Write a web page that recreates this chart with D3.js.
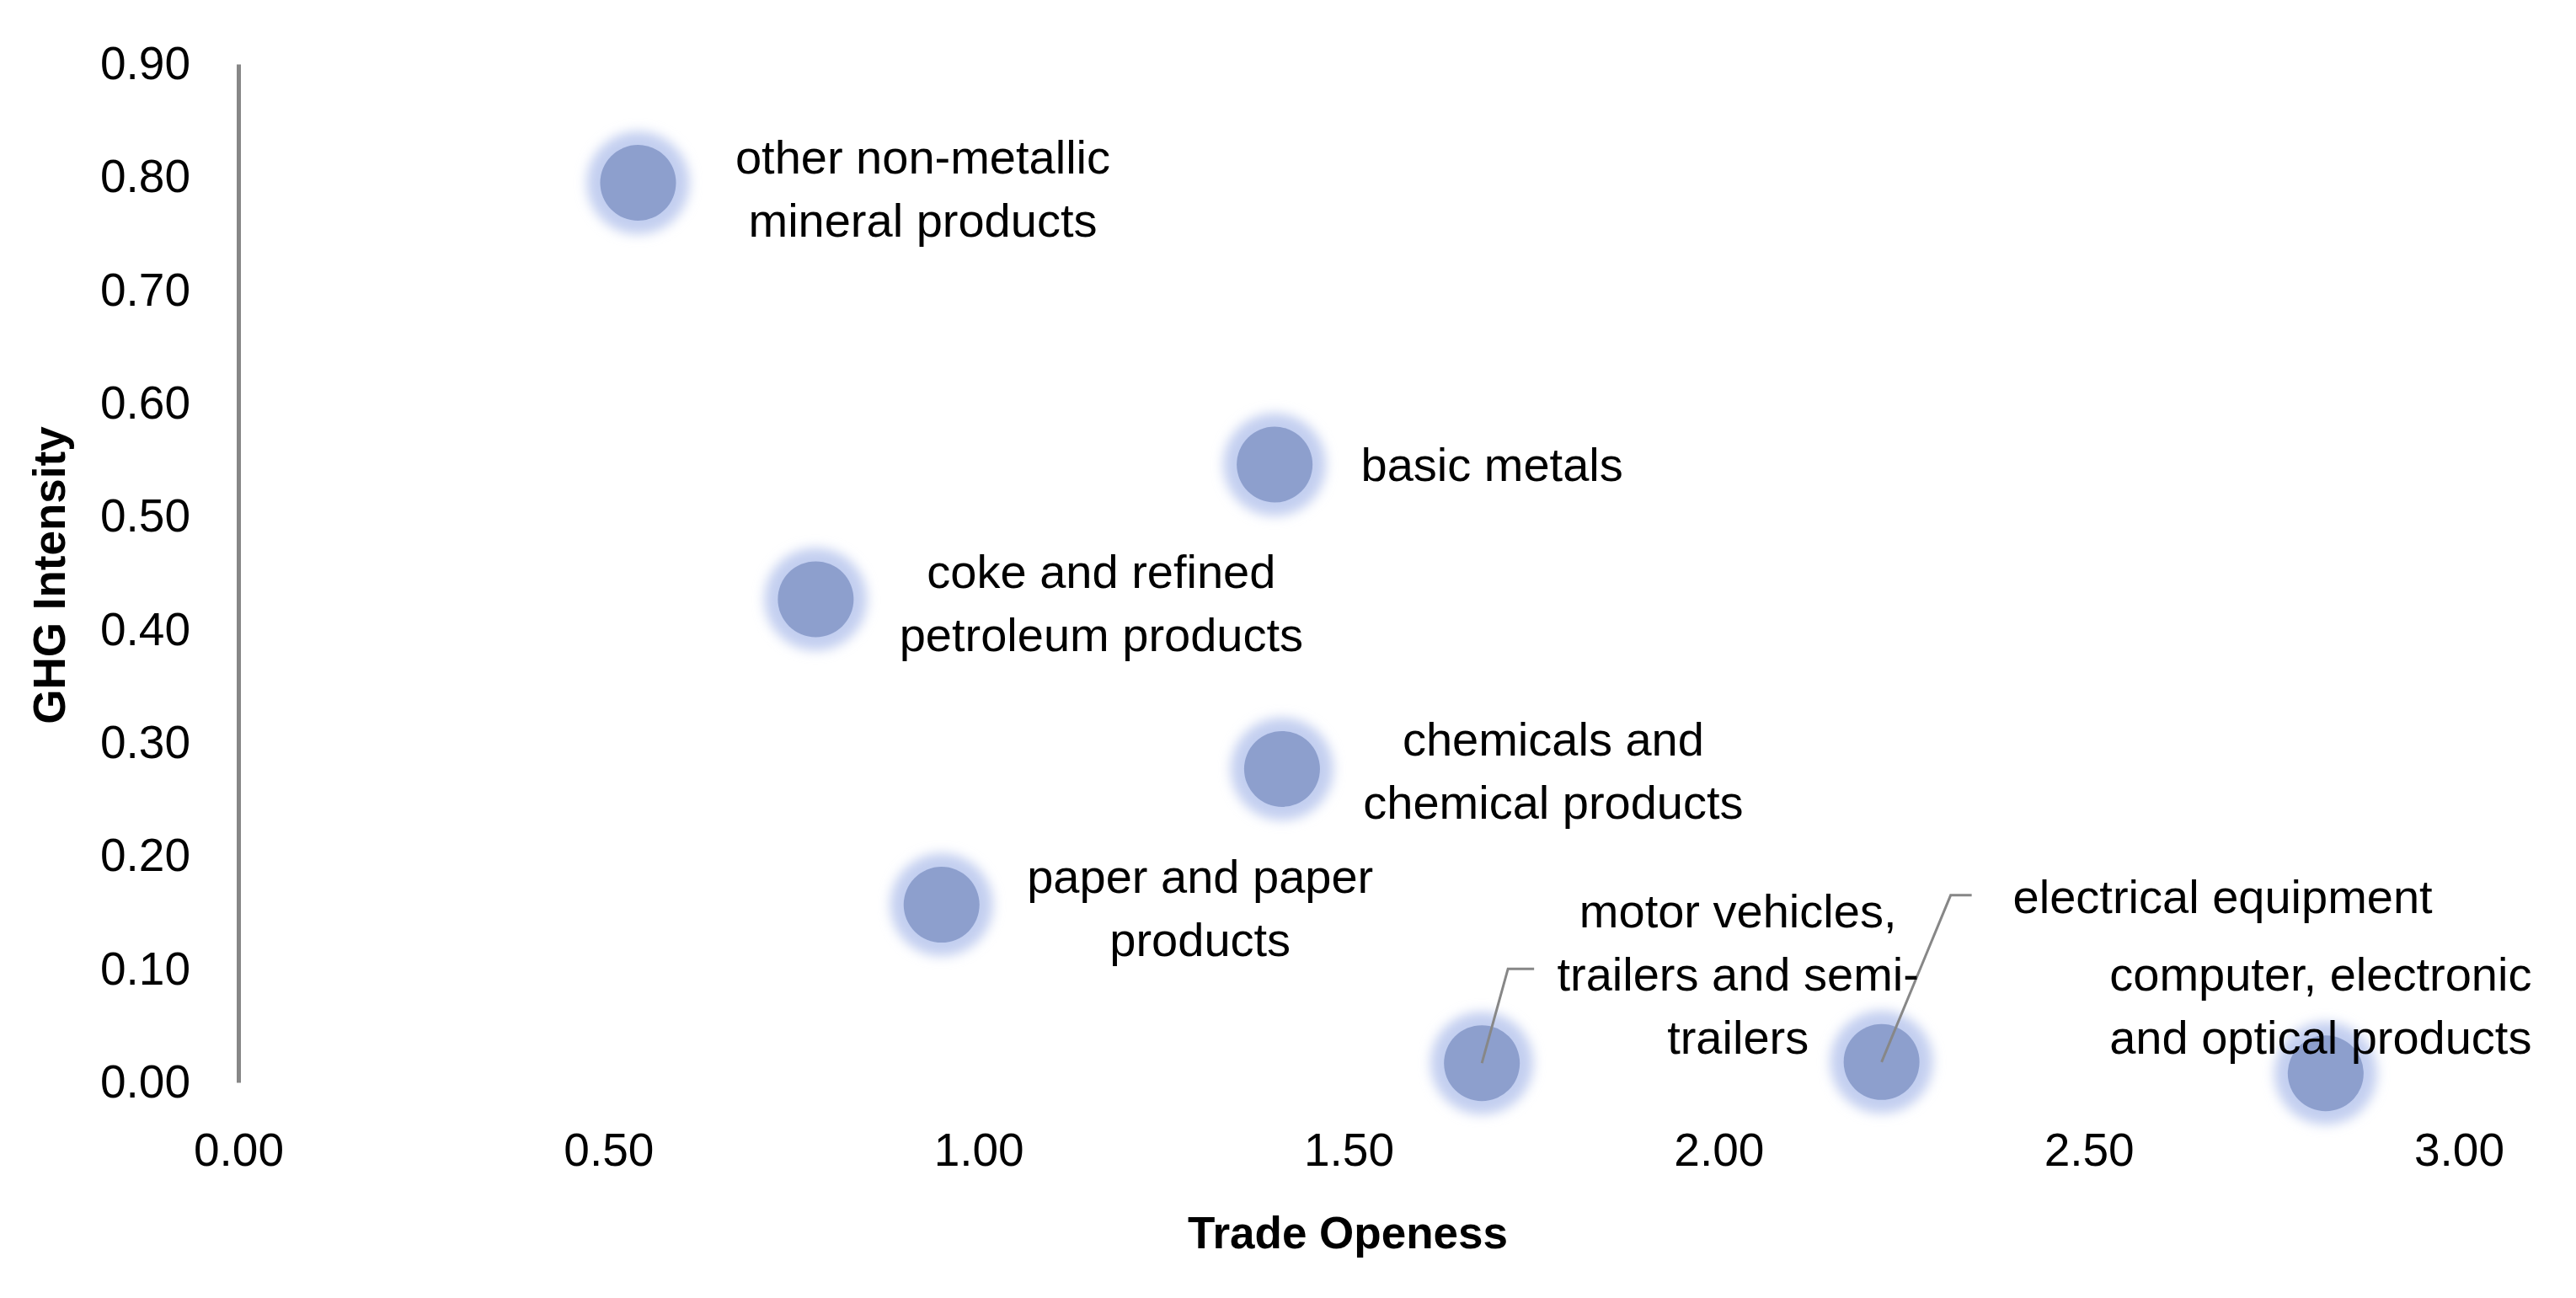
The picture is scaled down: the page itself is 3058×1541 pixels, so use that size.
<!DOCTYPE html>
<html>
<head>
<meta charset="utf-8">
<script src="https://cdn.jsdelivr.net/npm/d3@7"></script>
<style>
  html, body { margin: 0; padding: 0; background: #ffffff; }
  svg { display: block; }
</style>
</head>
<body>
<svg id="chart" width="3058" height="1541"></svg>
<script>
// ---- data ----
const sectors = [
  "other non-metallic mineral products",
  "basic metals",
  "coke and refined petroleum products",
  "chemicals and chemical products",
  "paper and paper products",
  "motor vehicles, trailers and semi-trailers",
  "electrical equipment",
  "computer, electronic and optical products"
];
const tradeOpenness = [0.54, 1.40, 0.78, 1.41, 0.95, 1.68, 2.22, 2.82];
const ghgIntensity  = [0.795, 0.546, 0.427, 0.277, 0.157, 0.017, 0.018, 0.008];
const labelLines = [
  ["other non-metallic", "mineral products"],
  ["basic metals"],
  ["coke and refined", "petroleum products"],
  ["chemicals and", "chemical products"],
  ["paper and paper", "products"],
  ["motor vehicles,", "trailers and semi-", "trailers"],
  ["electrical equipment"],
  ["computer, electronic", "and optical products"]
];
const xTicks = [0, 0.5, 1.0, 1.5, 2.0, 2.5, 3.0];
const yTicks = [0, 0.1, 0.2, 0.3, 0.4, 0.5, 0.6, 0.7, 0.8, 0.9];
const xTitle = "Trade Openess";
const yTitle = "GHG Intensity";

// ---- layout (pixels) ----
const labelOffsets = [
  [338, 7], [258, 0], [339, 5], [322, 2], [307, 4], [304, -106], [405, -196], [-6, -80]
];
// leader lines: [elbow dx, elbow dy, horizontal length] relative to point; null = none
const leaders = [null, null, null, null, null, [31, -112, 31], [82, -198, 25], null];

const svg = d3.select("#chart");
const x = d3.scaleLinear().domain([0, 3]).range([283, 2919]);
const y = d3.scaleLinear().domain([0, 0.9]).range([1285, 76]);
const fontFam = "'Liberation Sans', Arial, sans-serif";

// defs: glow filter
const defs = svg.append("defs");
const f = defs.append("filter").attr("id", "glow")
  .attr("x", "-50%").attr("y", "-50%").attr("width", "200%").attr("height", "200%");
f.append("feGaussianBlur").attr("stdDeviation", 7);

// Y axis
const yAxis = d3.axisLeft(y).tickValues(yTicks).tickFormat(d3.format(".2f"))
  .tickSize(0).tickSizeOuter(0).tickPadding(57);
const gy = svg.append("g").attr("transform", `translate(${x(0)},0)`).call(yAxis);
gy.select(".domain").attr("stroke", "#878787").attr("stroke-width", 5);
gy.selectAll("text").attr("font-family", fontFam).attr("font-size", 55).attr("fill", "#000");

// X axis (no line)
const xAxis = d3.axisBottom(x).tickValues(xTicks).tickFormat(d3.format(".2f"))
  .tickSize(0).tickSizeOuter(0);
const gx = svg.append("g").attr("transform", `translate(0,${y(0)})`).call(xAxis);
gx.select(".domain").remove();
gx.selectAll("text").attr("font-family", fontFam).attr("font-size", 55).attr("fill", "#000")
  .attr("y", 80).attr("dy", "0.35em");

// axis titles
svg.append("text").attr("x", 1600).attr("y", 1463).attr("dy", "0.35em")
  .attr("text-anchor", "middle").attr("font-family", fontFam).attr("font-weight", "bold")
  .attr("font-size", 53).attr("fill", "#000").text(xTitle);
svg.append("text").attr("transform", "translate(58,683) rotate(-90)").attr("dy", "0.35em")
  .attr("text-anchor", "middle").attr("font-family", fontFam).attr("font-weight", "bold")
  .attr("font-size", 53).attr("fill", "#000").text(yTitle);

const data = sectors.map((s, i) => ({
  name: s, x: tradeOpenness[i], y: ghgIntensity[i], lines: labelLines[i],
  off: labelOffsets[i], leader: leaders[i]
}));

// points
const pts = svg.append("g");
pts.selectAll("circle.glow").data(data).join("circle").attr("class", "glow")
  .attr("cx", d => x(d.x)).attr("cy", d => y(d.y)).attr("r", 61)
  .attr("fill", "#c3cff0").attr("filter", "url(#glow)");
pts.selectAll("circle.core").data(data).join("circle").attr("class", "core")
  .attr("cx", d => x(d.x)).attr("cy", d => y(d.y)).attr("r", 45)
  .attr("fill", "#8d9fcd");

// leader lines
svg.append("g").selectAll("path").data(data.filter(d => d.leader)).join("path")
  .attr("d", d => {
    const px = x(d.x), py = y(d.y), l = d.leader;
    return `M${px},${py}L${px + l[0]},${py + l[1]}L${px + l[0] + l[2]},${py + l[1]}`;
  })
  .attr("fill", "none").attr("stroke", "#878787").attr("stroke-width", 3);

// labels
const lineH = 75;
const lbl = svg.append("g").selectAll("text").data(data).join("text")
  .attr("text-anchor", "middle").attr("font-family", fontFam).attr("font-size", 56)
  .attr("fill", "#000");
lbl.each(function(d) {
  const cx = x(d.x) + d.off[0];
  const cy = y(d.y) + d.off[1];
  const n = d.lines.length;
  d3.select(this).selectAll("tspan").data(d.lines).join("tspan")
    .attr("x", cx)
    .attr("y", (t, j) => cy + (j - (n - 1) / 2) * lineH)
    .attr("dy", "0.35em")
    .text(t => t);
});
</script>
</body>
</html>
